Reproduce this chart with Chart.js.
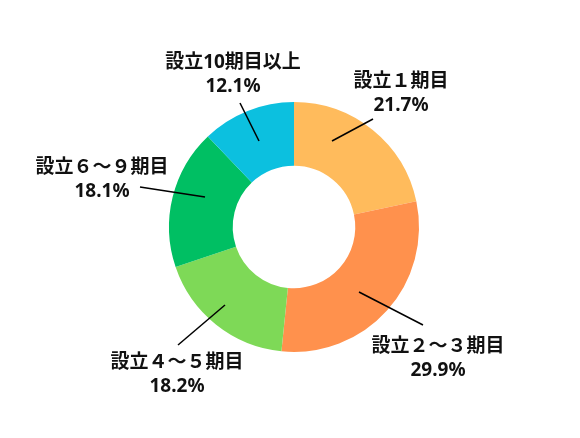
<!DOCTYPE html>
<html><head><meta charset="utf-8">
<script src="https://cdn.jsdelivr.net/npm/chart.js@4/dist/chart.umd.min.js"></script>
<style>html,body{margin:0;padding:0;background:#fff;}canvas{display:block;}</style>
</head><body>
<canvas id="c" width="580" height="438"></canvas>
<script>
const categories = ["設立１期目", "設立２～３期目", "設立４～５期目", "設立６～９期目", "設立10期目以上"];
const shares = [21.7, 29.9, 18.2, 18.1, 12.1];
const colors = ["#FFBB5C", "#FF914D", "#7ED957", "#00BF63", "#0CC0DF"];
// label layout relative to chart center: [lineStart dx,dy, lineEnd dx,dy, text dx, text dy(first line)]
const labelLayout = [
  [38, -86, 79, -108, 107, -145],
  [65, 65, 129, 98, 144, 120],
  [-69, 78, -116, 118, -117, 136],
  [-89, -30, -154, -40, -192, -59],
  [-35, -86, -54, -124, -61, -164]
];

const labelPlugin = {
  id: 'labels',
  afterDraw(chart) {
    const ctx = chart.ctx;
    const arcs = chart.getDatasetMeta(0).data;
    const cx = arcs[0].x, cy = arcs[0].y;
    ctx.save();
    ctx.strokeStyle = '#000';
    ctx.lineWidth = 1.5;
    ctx.fillStyle = '#111';
    ctx.textAlign = 'center';
    ctx.textBaseline = 'middle';
    categories.forEach((cat, i) => {
      const L = labelLayout[i];
      ctx.beginPath();
      ctx.moveTo(cx + L[0], cy + L[1]);
      ctx.lineTo(cx + L[2], cy + L[3]);
      ctx.stroke();
      ctx.font = 'bold 19px "Noto Sans", "Noto Sans CJK JP"';
      ctx.fillText(cat, cx + L[4], cy + L[5]);
      ctx.fillText(shares[i].toFixed(1) + '%', cx + L[4], cy + L[5] + 24);
    });
    ctx.restore();
  }
};

new Chart(document.getElementById('c'), {
  type: 'doughnut',
  data: {
    labels: categories,
    datasets: [{ data: shares, backgroundColor: colors, borderWidth: 0 }]
  },
  options: {
    responsive: false,
    animation: false,
    cutout: '49%',
    layout: { padding: { left: 169, right: 161, top: 102, bottom: 86 } },
    plugins: { legend: { display: false }, tooltip: { enabled: false } }
  },
  plugins: [labelPlugin]
});
</script>
</body></html>
